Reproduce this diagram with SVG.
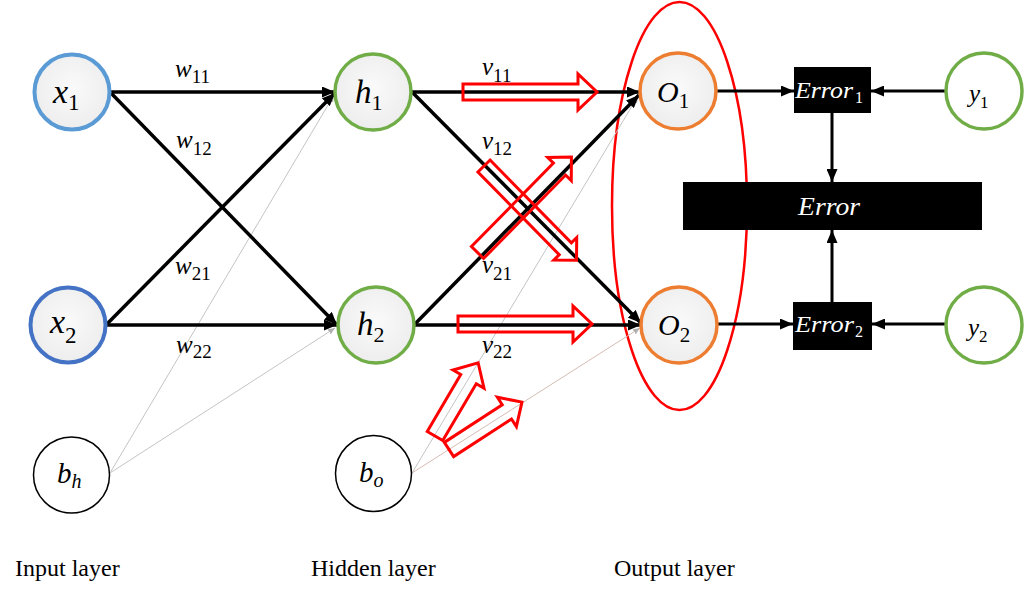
<svg xmlns="http://www.w3.org/2000/svg" width="1024" height="597" viewBox="0 0 1024 597">
<defs>
  <radialGradient id="nf" cx="50%" cy="45%" r="60%">
    <stop offset="0" stop-color="#FAFAFA"/>
    <stop offset="1" stop-color="#ECECEC"/>
  </radialGradient>
  <marker id="ah" markerUnits="userSpaceOnUse" markerWidth="13" markerHeight="11" refX="13" refY="5.5" orient="auto">
    <path d="M0,0 L13,5.5 L0,11 z" fill="#000"/>
  </marker>
  <marker id="ag" markerUnits="userSpaceOnUse" markerWidth="7" markerHeight="6" refX="7" refY="3" orient="auto">
    <path d="M0,0 L7,3 L0,6 z" fill="#B0B0B0"/>
  </marker>
  <style>
    .blk{stroke:#000;stroke-width:3.5;fill:none;marker-end:url(#ah)}
    .err{stroke:#000;stroke-width:3;fill:none;marker-end:url(#ah)}
    .gry{stroke:#C4C4C4;stroke-width:1;fill:none;marker-end:url(#ag)}
    .red{stroke:#FF0000;stroke-width:3;fill:none;stroke-linejoin:miter}
    text{font-family:'Liberation Serif','Times New Roman',Times,serif}
    .m{font-style:italic;fill:#000}
    .s{font-style:normal}
    .lbl{font-size:24px;fill:#000}
    .w{fill:#fff}
  </style>
</defs>
<rect width="1024" height="597" fill="#fff"/>

<ellipse id="output-group" cx="679.5" cy="206" rx="67.5" ry="204" fill="none" stroke="#FF0000" stroke-width="2.5"/>

<g id="connectors">
  <line class="gry" x1="110" y1="473" x2="334" y2="95"/>
  <line class="gry" x1="110" y1="473" x2="335" y2="328"/>
  <line class="gry" x1="412" y1="473" x2="638" y2="96"/>
  <line class="gry" x1="412" y1="473" x2="640" y2="328" style="stroke:#D4BCB4"/>

  <line class="blk" x1="110" y1="92" x2="335" y2="92"/>
  <line class="blk" x1="110" y1="92" x2="337" y2="325"/>
  <line class="blk" x1="106" y1="325" x2="335" y2="93"/>
  <line class="blk" x1="106" y1="325" x2="337" y2="325"/>

  <line class="blk" x1="412" y1="92" x2="640" y2="92"/>
  <line class="blk" x1="412" y1="92" x2="641" y2="323"/>
  <line class="blk" x1="414" y1="325" x2="639" y2="95"/>
  <line class="blk" x1="414" y1="325" x2="641" y2="325"/>

  <line class="err" x1="716" y1="91" x2="794" y2="91"/>
  <line class="err" x1="946" y1="91" x2="871" y2="91"/>
  <line class="err" x1="832" y1="113" x2="832" y2="182"/>
  <line class="err" x1="832" y1="302" x2="832" y2="230"/>
  <line class="err" x1="718" y1="324" x2="793" y2="324"/>
  <line class="err" x1="946" y1="324" x2="872" y2="324"/>
</g>

<g id="red-arrows">
  <polygon class="red" transform="translate(463,92)" points="0,-8 115,-8 115,-18 134,0 115,18 115,8 0,8"/>
  <polygon class="red" transform="translate(458,324)" points="0,-8 115,-8 115,-18 134,0 115,18 115,8 0,8"/>
  <polygon class="red" transform="translate(484,166) rotate(45.5)" points="0,-8.5 116,-8.5 116,-16 132,0 116,16 116,8.5 0,8.5"/>
  <polygon class="red" transform="translate(477.5,252.5) rotate(-45.5)" points="0,-8.5 117,-8.5 117,-16.5 134,0 117,16.5 117,8.5 0,8.5"/>
  <polygon class="red" transform="translate(435,436) rotate(-59.5)" points="0,-9 66,-9 66,-18 85,0 66,18 66,9 0,9"/>
  <polygon class="red" transform="translate(449,449.5) rotate(-33)" points="0,-8.5 69,-8.5 69,-17.5 87,0 69,17.5 69,8.5 0,8.5"/>
</g>

<g id="weight-labels">
  <text class="m" x="175" y="77" font-size="25">w<tspan class="s" font-size="19" dy="6">11</tspan></text>
  <text class="m" x="176" y="148" font-size="25">w<tspan class="s" font-size="19" dy="7">12</tspan></text>
  <text class="m" x="175" y="274" font-size="25">w<tspan class="s" font-size="19" dy="6">21</tspan></text>
  <text class="m" x="176" y="353" font-size="25">w<tspan class="s" font-size="19" dy="5">22</tspan></text>
  <text class="m" x="482" y="75" font-size="25">v<tspan class="s" font-size="19" dy="7">11</tspan></text>
  <text class="m" x="482" y="149" font-size="25">v<tspan class="s" font-size="19" dy="6">12</tspan></text>
  <text class="m" x="482" y="273" font-size="25">v<tspan class="s" font-size="19" dy="7">21</tspan></text>
  <text class="m" x="482" y="353" font-size="25">v<tspan class="s" font-size="19" dy="5">22</tspan></text>
</g>

<g id="node-x1">
  <circle cx="72" cy="92" r="37.5" fill="url(#nf)" stroke="#5B9BD5" stroke-width="4"/>
  <text class="m" x="53" y="103" font-size="34">x<tspan class="s" font-size="23" dy="7">1</tspan></text>
</g>
<g id="node-x2">
  <circle cx="68" cy="325" r="37.5" fill="url(#nf)" stroke="#4472C4" stroke-width="4"/>
  <text class="m" x="50" y="333" font-size="34">x<tspan class="s" font-size="23" dy="10">2</tspan></text>
</g>
<g id="node-bh">
  <circle cx="71.5" cy="475" r="38" fill="#fff" stroke="#000" stroke-width="1.5"/>
  <text class="m" x="57" y="483" font-size="29">b<tspan font-size="20" dy="5">h</tspan></text>
</g>
<g id="node-h1">
  <circle cx="373" cy="92" r="38" fill="url(#nf)" stroke="#70AD47" stroke-width="3.5"/>
  <text class="m" x="355" y="103" font-size="33">h<tspan class="s" font-size="22" dy="7">1</tspan></text>
</g>
<g id="node-h2">
  <circle cx="376" cy="325" r="38" fill="url(#nf)" stroke="#70AD47" stroke-width="3.5"/>
  <text class="m" x="357" y="335" font-size="33">h<tspan class="s" font-size="22" dy="7">2</tspan></text>
</g>
<g id="node-bo">
  <circle cx="373.5" cy="473.5" r="38" fill="#fff" stroke="#000" stroke-width="1.5"/>
  <text class="m" x="359" y="482" font-size="29">b<tspan font-size="20" dy="5">o</tspan></text>
</g>
<g id="node-o1">
  <circle cx="678" cy="91" r="38" fill="url(#nf)" stroke="#ED7D31" stroke-width="3.5"/>
  <text class="m" x="657" y="102" font-size="30">O<tspan class="s" font-size="21" dy="6">1</tspan></text>
</g>
<g id="node-o2">
  <circle cx="679" cy="325" r="38" fill="url(#nf)" stroke="#ED7D31" stroke-width="3.5"/>
  <text class="m" x="658" y="335" font-size="30">O<tspan class="s" font-size="21" dy="7">2</tspan></text>
</g>
<g id="node-error1">
  <rect x="794" y="67" width="77" height="46" fill="#000"/>
  <text class="m w" x="795" y="98" font-size="23" textLength="58" lengthAdjust="spacingAndGlyphs">Error</text>
  <text class="w" x="855" y="103" font-size="16">1</text>
</g>
<g id="node-error">
  <rect x="683" y="182" width="299" height="48" fill="#000"/>
  <text class="m w" x="798" y="215" font-size="26" textLength="62" lengthAdjust="spacingAndGlyphs">Error</text>
</g>
<g id="node-error2">
  <rect x="793" y="302" width="79" height="48" fill="#000"/>
  <text class="m w" x="795" y="332" font-size="23" textLength="59" lengthAdjust="spacingAndGlyphs">Error</text>
  <text class="w" x="855" y="337" font-size="16">2</text>
</g>
<g id="node-y1">
  <circle cx="984" cy="91" r="38" fill="#fff" stroke="#70AD47" stroke-width="3.5"/>
  <text class="m" x="969" y="102" font-size="25">y<tspan class="s" font-size="17" dy="6">1</tspan></text>
</g>
<g id="node-y2">
  <circle cx="984" cy="325" r="38" fill="#fff" stroke="#70AD47" stroke-width="3.5"/>
  <text class="m" x="968" y="336" font-size="25">y<tspan class="s" font-size="17" dy="6">2</tspan></text>
</g>

<g id="layer-labels">
  <text class="lbl" x="15" y="576">Input layer</text>
  <text class="lbl" x="311" y="576">Hidden layer</text>
  <text class="lbl" x="614" y="576">Output layer</text>
</g>
</svg>
